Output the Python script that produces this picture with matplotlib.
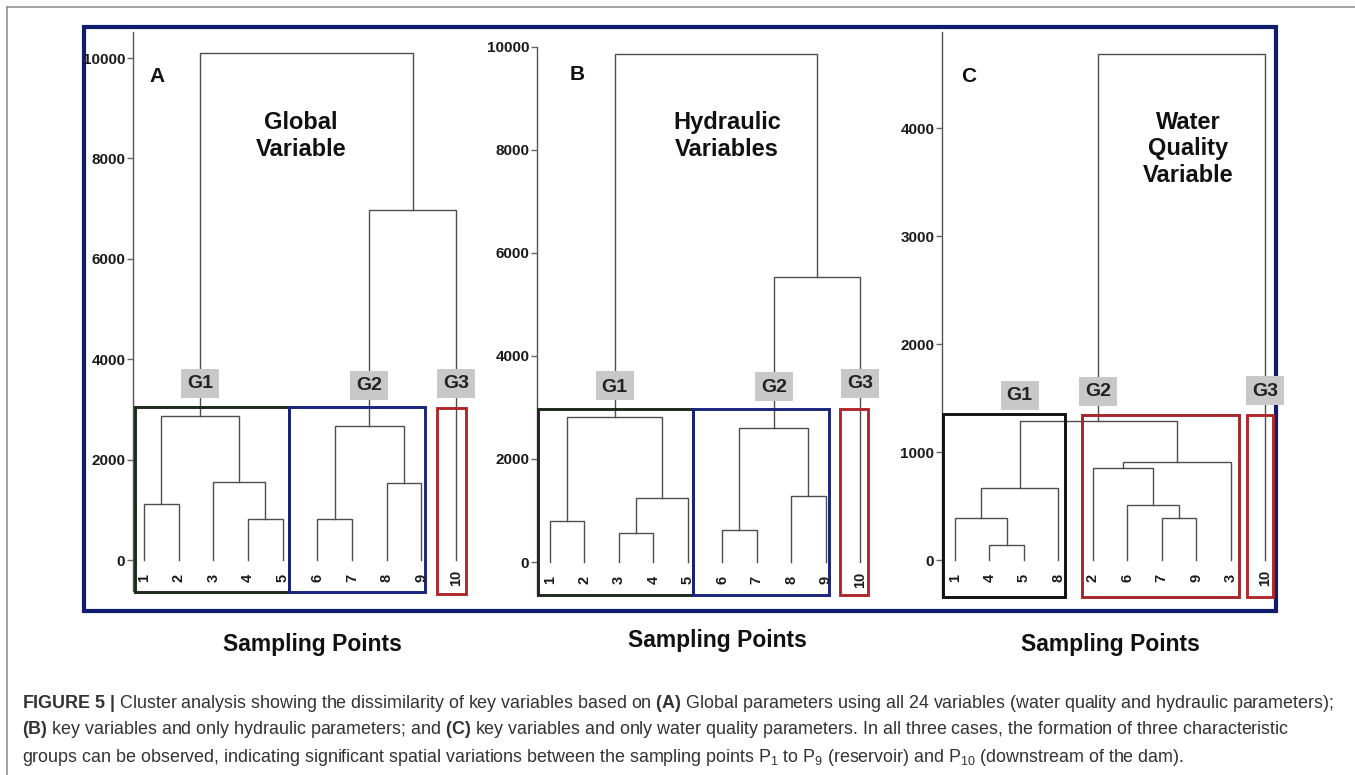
import matplotlib
matplotlib.use('Agg')
import matplotlib.pyplot as plt
from matplotlib.patches import Rectangle
from matplotlib.lines import Line2D

plt.rcParams['font.family'] = ['Liberation Sans', 'DejaVu Sans']
plt.rcParams['mathtext.fontset'] = 'custom'
plt.rcParams['mathtext.rm'] = 'Liberation Sans'
plt.rcParams['mathtext.bf'] = 'Liberation Sans:bold'
plt.rcParams['mathtext.it'] = 'Liberation Sans:italic'

# ---------------- data ----------------
# leaf order (left to right) and linkage (node ids: leaves 0..9, merges 10..18)
A_leaves = ['1', '2', '3', '4', '5', '6', '7', '8', '9', '10']
A_left = [0, 3, 2, 10, 5, 7, 14, 16, 13]
A_right = [1, 4, 11, 12, 6, 8, 15, 9, 17]
A_height = [1120, 820, 1550, 2860, 820, 1530, 2660, 6970, 10100]
A_ticks = [0, 2000, 4000, 6000, 8000, 10000]

B_leaves = ['1', '2', '3', '4', '5', '6', '7', '8', '9', '10']
B_left = [0, 2, 11, 10, 5, 7, 14, 16, 13]
B_right = [1, 3, 4, 12, 6, 8, 15, 9, 17]
B_height = [790, 570, 1240, 2815, 630, 1290, 2600, 5530, 9870]
B_ticks = [0, 2000, 4000, 6000, 8000, 10000]

C_leaves = ['1', '4', '5', '8', '2', '6', '7', '9', '3', '10']
C_left = [1, 0, 11, 6, 5, 4, 15, 12, 17]
C_right = [2, 10, 3, 7, 13, 14, 8, 16, 9]
C_height = [136, 388, 667, 388, 505, 850, 908, 1289, 4685]
C_ticks = [0, 1000, 2000, 3000, 4000]

group_names = ['G1', 'G2', 'G3']
A_group_nodes = [13, 16, 9]
B_group_nodes = [13, 16, 9]
C_group_nodes = [12, 17, 9]

panel_letters = ['A', 'B', 'C']
panel_titles = ['Global\nVariable', 'Hydraulic\nVariables', 'Water\nQuality\nVariable']
xlabel = 'Sampling Points'

# ---------------- layout (pixels) ----------------
W, H = 1355, 775
fig = plt.figure(figsize=(W / 100, H / 100), dpi=100)

def fx(x):
    return x / W

def fy(y):
    return 1 - y / H

layouts = [
    dict(spine=133, right=478, top=32, bottom=591, leaf0=144, dleaf=34.67, zero=560, ppu=0.0502,
         glab_y=[383, 385, 383],
         boxes=[(135, 407, 289, 592, '#1b2a1b'), (289, 407, 425, 592, '#1a237e'), (437, 408, 466, 594, '#b0282c')],
         letter=(157, 77), title=(301, 136), xl=(312, 645), leaf_y=578),
    dict(spine=537, right=880, top=47, bottom=595, leaf0=550, dleaf=34.44, zero=562, ppu=0.0515,
         glab_y=[386, 387, 383],
         boxes=[(538, 409, 693, 595, '#1b2a1b'), (693, 409, 829, 595, '#1a237e'), (840, 409, 868, 595, '#b0282c')],
         letter=(577, 75), title=(727, 136), xl=(717, 641), leaf_y=580),
    dict(spine=942, right=1276, top=32, bottom=597, leaf0=955, dleaf=34.44, zero=560, ppu=0.108,
         glab_y=[395, 391, 390],
         boxes=[(943, 414, 1065, 597, '#111111'), (1082, 415, 1239, 597, '#a3272b'), (1247, 415, 1273, 597, '#b0282c')],
         letter=(969, 76), title=(1188, 149), xl=(1110, 645), leaf_y=578),
]

panels = [
    (A_leaves, A_left, A_right, A_height, A_ticks, A_group_nodes),
    (B_leaves, B_left, B_right, B_height, B_ticks, B_group_nodes),
    (C_leaves, C_left, C_right, C_height, C_ticks, C_group_nodes),
]

# outer decorative frames (behind everything)
fig.add_artist(Line2D([fx(7), fx(W)], [fy(7), fy(7)], color='#8a8a8a', lw=1.1, zorder=-2))
fig.add_artist(Line2D([fx(7), fx(7)], [fy(7), fy(H)], color='#8a8a8a', lw=1.1, zorder=-2))
fig.add_artist(Rectangle((fx(84), fy(611)), fx(1276) - fx(84), fy(27) - fy(611),
                         transform=fig.transFigure, fill=False, ec='#101c6c', lw=3.0, zorder=-1))

LINE = '#4d4d4d'
GLAB_W, GLAB_H = 38, 29

for (leaves, left, right, height, ticks, gnodes), L, letter, title in zip(panels, layouts, panel_letters, panel_titles):
    lft, rgt, top, bot = L['spine'], L['right'], L['top'], L['bottom']
    ax = fig.add_axes([fx(lft), fy(bot), fx(rgt) - fx(lft), fy(top) - fy(bot)])
    ax.patch.set_alpha(0)
    ax.set_xlim((lft - L['leaf0']) / L['dleaf'], (rgt - L['leaf0']) / L['dleaf'])
    ax.set_ylim((L['zero'] - bot) / L['ppu'], (L['zero'] - top) / L['ppu'])

    def p2d(x, y, L=L):
        return (x - L['leaf0']) / L['dleaf'], (L['zero'] - y) / L['ppu']

    for s in ['top', 'right', 'bottom']:
        ax.spines[s].set_visible(False)
    ax.spines['left'].set_color('#555555')
    ax.spines['left'].set_linewidth(1.0)
    ax.set_xticks([])
    ax.set_yticks(ticks, labels=[str(t) for t in ticks], fontweight='bold', fontsize=11, color='#1a1a1a')
    ax.tick_params(axis='y', length=4, width=1, color='#666666', pad=1.5)

    # dendrogram
    n = len(leaves)
    xs = list(range(n))
    ys = [0.0] * n
    for l, r, h in zip(left, right, height):
        ax.plot([xs[l], xs[l], xs[r], xs[r]], [ys[l], h, h, ys[r]], color=LINE, lw=1.0,
                solid_joinstyle='miter', zorder=2, clip_on=False)
        xs.append((xs[l] + xs[r]) / 2)
        ys.append(h)

    # leaf labels
    _, ly = p2d(0, L['leaf_y'])
    for i, lab in enumerate(leaves):
        ax.text(i, ly, lab, rotation=90, ha='center', va='center', fontsize=10.5,
                fontweight='bold', color='#1a1a1a', zorder=4)

    # group boxes
    for (x0, y0, x1, y1, c) in L['boxes']:
        dx0, dy0 = p2d(x0, y0)
        dx1, dy1 = p2d(x1, y1)
        ax.add_patch(Rectangle((dx0, dy1), dx1 - dx0, dy0 - dy1, fill=False, ec=c, lw=2.1,
                               zorder=3, clip_on=False))

    # group labels (grey tag + text)
    for name, node, gy in zip(group_names, gnodes, L['glab_y']):
        cx = L['leaf0'] + xs[node] * L['dleaf']
        bx0, by0 = p2d(cx - GLAB_W / 2, gy + GLAB_H / 2)
        bx1, by1 = p2d(cx + GLAB_W / 2, gy - GLAB_H / 2)
        ax.add_patch(Rectangle((bx0, by0), bx1 - bx0, by1 - by0, fc='#c8c8c8', ec='none',
                               zorder=5, clip_on=False))
        _, dy = p2d(0, gy + 1)
        ax.text(xs[node], dy, name, ha='center', va='center', fontsize=14, fontweight='bold',
                color='#222222', zorder=6)

    # texts
    fig.text(fx(L['letter'][0]), fy(L['letter'][1]), letter, ha='center', va='center',
             fontsize=15, fontweight='bold', color='#111111')
    fig.text(fx(L['title'][0]), fy(L['title'][1]), title, ha='center', va='center',
             fontsize=17, fontweight='bold', color='#111111', linespacing=1.2)
    fig.text(fx(L['xl'][0]), fy(L['xl'][1]), xlabel, ha='center', va='center',
             fontsize=16.5, fontweight='bold', color='#111111')

# caption
cap_lines = [
    r'$\mathbf{FIGURE\ 5\ |}$ Cluster analysis showing the dissimilarity of key variables based on $\mathbf{(A)}$ Global parameters using all 24 variables (water quality and hydraulic parameters);',
    r'$\mathbf{(B)}$ key variables and only hydraulic parameters; and $\mathbf{(C)}$ key variables and only water quality parameters. In all three cases, the formation of three characteristic',
    r'groups can be observed, indicating significant spatial variations between the sampling points P$_1$ to P$_9$ (reservoir) and P$_{10}$ (downstream of the dam).',
]
cap_y = [703, 729, 757]
cap_x0, cap_x1 = 22, 1334
fig.canvas.draw()
renderer = fig.canvas.get_renderer()
t0 = fig.text(fx(cap_x0), fy(cap_y[0]), cap_lines[0], fontsize=12, va='center', ha='left', color='#333333')
w0 = t0.get_window_extent(renderer).width
fs = 12 * (cap_x1 - cap_x0) / w0
t0.set_fontsize(fs)
for line, yy in zip(cap_lines[1:], cap_y[1:]):
    fig.text(fx(cap_x0), fy(yy), line, fontsize=fs, va='center', ha='left', color='#333333')

fig.savefig('out.png', dpi=100)
